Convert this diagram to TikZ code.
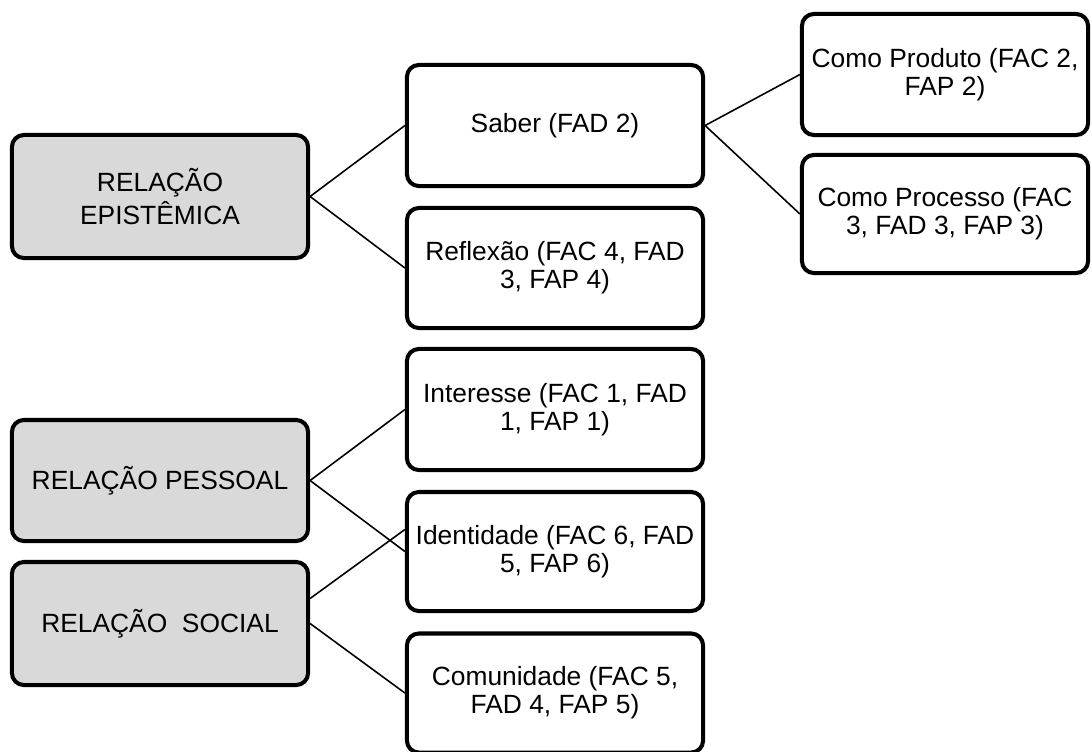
\documentclass[tikz,border=0pt]{standalone}
\usepackage{fontspec}
\setmainfont{Liberation Sans}
\usepackage{tikz}
\usepackage{xcolor}
\definecolor{relgray}{HTML}{D9D9D9}
\tikzset{
    item-box/.style = {draw=black, fill=white, line width=1.15pt, rectangle, rounded corners=3.4pt, inner sep=0pt, minimum width=2.96cm, minimum height=1.21cm, align=center, font=\fontsize{7.5}{8}\selectfont},
    rel-box/.style = {item-box, fill=relgray},
    link-line/.style = {draw=black, line width=0.45pt},
}

\begin{document}
\begin{tikzpicture}[x=0.01cm, y=-0.01cm]
\useasboundingbox (0,0) rectangle (1092,751);
% relacoes
\node[rel-box, minimum height=1.23cm] (epistemica) at (160,196.5) {RELAÇÃO\\EPISTÊMICA};
\node[rel-box] (pessoal) at (160,480.5) {RELAÇÃO PESSOAL};
\node[rel-box, minimum height=1.23cm] (social) at (160,623.5) {RELAÇÃO\ \ SOCIAL};
% dimensoes
\node[item-box] (saber) at (555,125.5) {Saber (FAD 2)};
\node[item-box, minimum height=1.2cm] (reflexao) at (555,268) {Reflexão (FAC 4, FAD\\3, FAP 4)};
\node[item-box] (interesse) at (555,409.5) {Interesse (FAC 1, FAD\\1, FAP 1)};
\node[item-box, minimum height=1.19cm] (identidade) at (555,551.5) {Identidade (FAC 6, FAD\\5, FAP 6)};
\node[item-box, minimum height=1.19cm] (comunidade) at (555,693) {Comunidade (FAC 5,\\FAD 4, FAP 5)};
% saber
\node[item-box, minimum width=2.86cm] (produto) at (945,74.5) {Como Produto (FAC 2,\\FAP 2)};
\node[item-box, minimum width=2.86cm, minimum height=1.18cm] (processo) at (945,214) {Como Processo (FAC\\3, FAD 3, FAP 3)};

\draw[link-line] (epistemica.east) -- (saber.west);
\draw[link-line] (epistemica.east) -- (reflexao.west);
\draw[link-line] (saber.east) -- (produto.west);
\draw[link-line] (saber.east) -- (processo.west);
\draw[link-line] (pessoal.east) -- (interesse.west);
\draw[link-line] (pessoal.east) -- (identidade.west);
\draw[link-line] ([yshift=0.25cm]social.east) -- ([yshift=0.22cm]identidade.west);
\draw[link-line] (social.east) -- (comunidade.west);
\end{tikzpicture}
\end{document}
